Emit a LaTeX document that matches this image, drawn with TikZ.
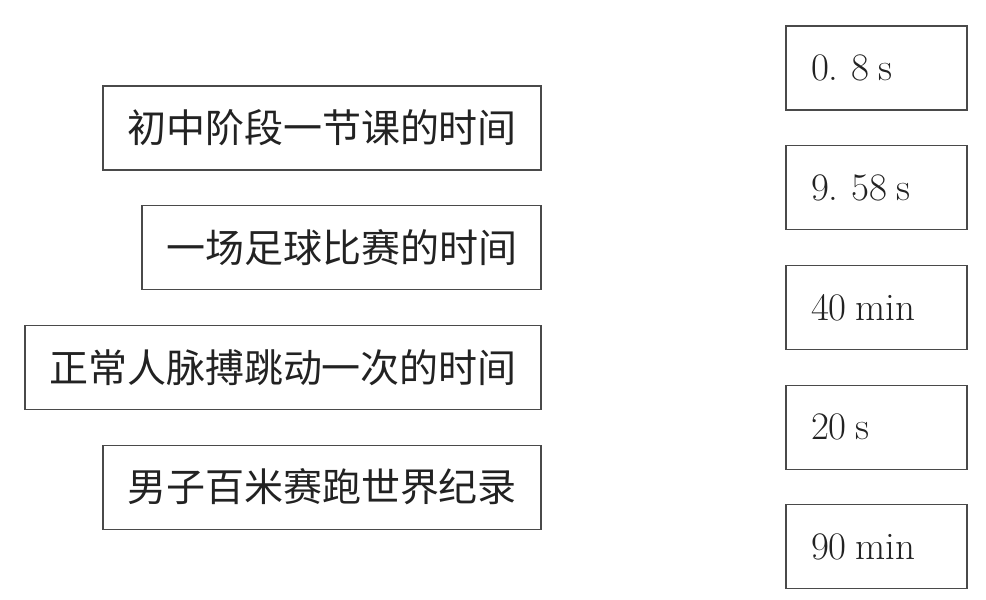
\documentclass[tikz,border=0pt]{standalone}
\usepackage{fontspec}
\newfontfamily\cjk{Noto Sans CJK SC}
\usetikzlibrary{positioning}
\definecolor{BoxLine}{HTML}{4A4A4A}
\definecolor{BoxText}{HTML}{222222}

\begin{document}
\begin{tikzpicture}[
    x=1pt,y=-1pt,
    node distance=35.7pt,
    event/.style={draw=BoxLine,line width=1.2pt,outer sep=0pt,minimum height=84pt,
      inner xsep=24pt,inner ysep=0pt,text=BoxText,
      font=\cjk\fontsize{39}{44}\selectfont},
    value/.style={draw=BoxLine,line width=1.2pt,outer sep=0pt,minimum height=84pt,
      inner xsep=25pt,inner ysep=0pt,text width=131pt,align=left,text=BoxText,
      font=\fontsize{39}{44}\selectfont}
  ]
    \useasboundingbox (0,0) rectangle (986,600);
    % left column: events
    \node[event,anchor=north east] (lesson) at (541,86) {初中阶段一节课的时间};
    \node[event,below=of lesson.south east,anchor=north east] (football) {一场足球比赛的时间};
    \node[event,below=of football.south east,anchor=north east] (pulse) {正常人脉搏跳动一次的时间};
    \node[event,below=of pulse.south east,anchor=north east] (sprint) {男子百米赛跑世界纪录};
    % right column: durations
    \node[value,anchor=north west] (t1) at (786,26) {0.\ 8\hspace{0.22em}s};
    \node[value,below=of t1] (t2) {9.\ 58\hspace{0.22em}s};
    \node[value,below=of t2] (t3) {40\hspace{0.22em}min};
    \node[value,below=of t3] (t4) {20\hspace{0.22em}s};
    \node[value,below=of t4] (t5) {90\hspace{0.22em}min};
  \end{tikzpicture}
\end{document}
